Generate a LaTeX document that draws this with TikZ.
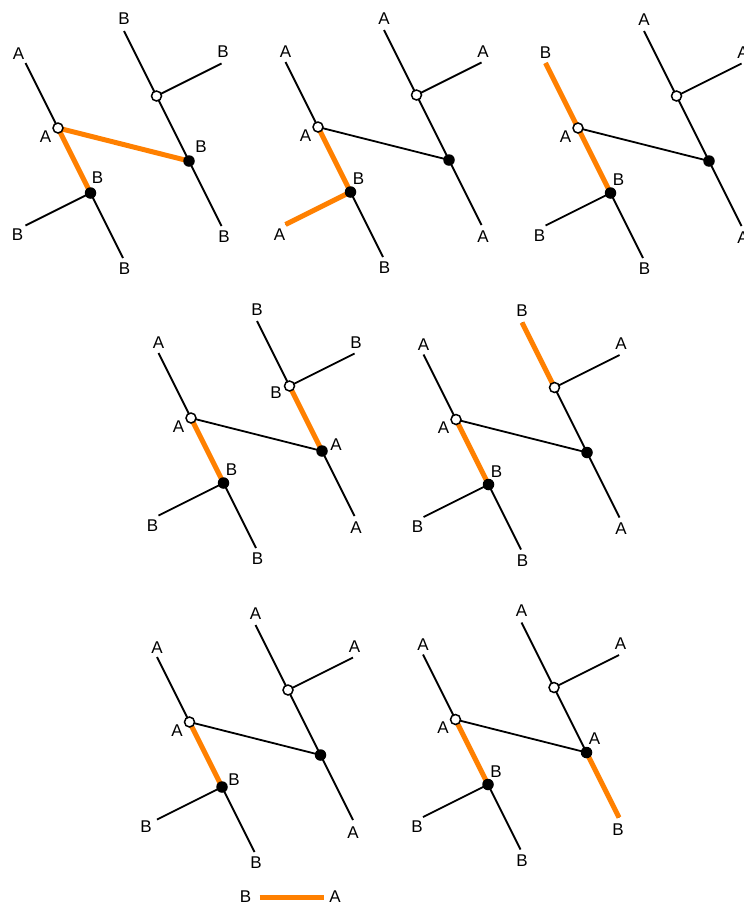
\documentclass[tikz,border=0pt]{standalone}
\usepackage{fontspec}
\setmainfont{Liberation Sans}
\usetikzlibrary{calc}
\definecolor{hlorange}{RGB}{255,128,0}
\tikzset{
  edge/.style={line width=1.8pt,black},
  hledge/.style={line width=5pt,hlorange},
  opennode/.style={circle,draw=black,fill=white,line width=1.5pt,minimum size=10pt,inner sep=0pt},
  fullnode/.style={circle,fill=black,minimum size=11.5pt,inner sep=0pt},
  lab/.style={font=\fontsize{17}{17}\selectfont,inner sep=0pt,anchor=center}
}
\newcommand\mkpanel[3]{%
  \begin{scope}[shift={(#2,#3)}]
    \coordinate (#1lo) at (58,128);
    \coordinate (#1lt) at (25.5,63);
    \coordinate (#1lf) at (90.5,193);
    \coordinate (#1lb) at (123,258);
    \coordinate (#1ls) at (25.5,225.5);
    \coordinate (#1rf) at (189,161);
    \coordinate (#1ro) at (156.5,96);
    \coordinate (#1rt) at (124,31);
    \coordinate (#1rs) at (221.5,63.5);
    \coordinate (#1rb) at (221.5,226);
  \end{scope}
  \draw[edge] (#1lt) -- (#1lo) -- (#1lf) -- (#1lb);
  \draw[edge] (#1lf) -- (#1ls);
  \draw[edge] (#1lo) -- (#1rf);
  \draw[edge] (#1rt) -- (#1ro) -- (#1rf) -- (#1rb);
  \draw[edge] (#1ro) -- (#1rs);
}
\newcommand\mknodes[1]{%
  \node[opennode] (#1LO) at (#1lo) {};
  \node[opennode] (#1RO) at (#1ro) {};
  \node[fullnode] (#1LF) at (#1lf) {};
  \node[fullnode] (#1RF) at (#1rf) {};
}
\newcommand\lab[4]{\node[lab] (#1) at ($(#2)+(#3)$) {#4};}
\newcommand\stdlabs[8]{% prefix, lt, lo, lf, ls, lb, rt, rs
  \lab{#1Llt}{#1lt}{0,-10}{#2}
  \lab{#1Llo}{#1lo}{-12.5,8.5}{#3}
  \lab{#1Llf}{#1lf}{8,-13}{#4}
  \lab{#1Lls}{#1ls}{-6,10}{#5}
  \lab{#1Llb}{#1lb}{1.5,11}{#6}
  \lab{#1Lrt}{#1rt}{0,-11.5}{#7}
  \lab{#1Lrs}{#1rs}{1.5,-11}{#8}
}
\begin{document}
\begin{tikzpicture}[x=1pt,y=-1pt]
\useasboundingbox (0,0) rectangle (744,908);
\fill[white] (0,0) rectangle (744,908);

\mkpanel{a}{0}{0}
\mkpanel{b}{260}{-1}
\mkpanel{c}{520}{0}
\mkpanel{d}{133}{290}
\mkpanel{e}{398}{291.5}
\mkpanel{f}{131.5}{594}
\mkpanel{g}{397.5}{591.5}

% highlighted edges
\draw[hledge] (alf) -- (alo) -- (arf);
\draw[hledge] (blo) -- (blf) -- (bls);
\draw[hledge] (clt) -- (clo) -- (clf);
\draw[hledge] (dlo) -- (dlf);
\draw[hledge] (dro) -- (drf);
\draw[hledge] (elo) -- (elf);
\draw[hledge] (ert) -- (ero);
\draw[hledge] (flo) -- (flf);
\draw[hledge] (glo) -- (glf);
\draw[hledge] (grf) -- (grb);

\mknodes{a}\mknodes{b}\mknodes{c}\mknodes{d}\mknodes{e}\mknodes{f}\mknodes{g}

% panel a
\lab{aLlt}{alt}{-7,-9}{A}
\lab{aLlo}{alo}{-12.5,8.5}{A}
\lab{aLlf}{alf}{7,-15}{B}
\lab{aLls}{als}{-8,9}{B}
\lab{aLlb}{alb}{1.5,11}{B}
\lab{aLrt}{art}{0,-12}{B}
\lab{aLrs}{ars}{1.5,-11.5}{B}
\lab{aLrf}{arf}{12,-14}{B}
\lab{aLrb}{arb}{2.5,11}{B}
% panel b
\stdlabs{b}{A}{A}{B}{A}{B}{A}{A}
\lab{bLrb}{brb}{1.5,11.5}{A}
% panel c
\stdlabs{c}{B}{A}{B}{B}{B}{A}{A}
\lab{cLrb}{crb}{1.5,11.5}{A}
% panel d
\stdlabs{d}{A}{A}{B}{B}{B}{B}{B}
\lab{dLro}{dro}{-13.5,6.5}{B}
\lab{dLrf}{drf}{14,-6}{A}
\lab{dLrb}{drb}{1.5,11.5}{A}
% panel e
\stdlabs{e}{A}{A}{B}{B}{B}{B}{A}
\lab{eLrb}{erb}{1.5,11.5}{A}
% panel f
\lab{fLlt}{flt}{0,-9}{A}
\lab{fLlo}{flo}{-12.5,8.5}{A}
\lab{fLlf}{flf}{12,-7}{B}
\lab{fLls}{fls}{-11,7}{B}
\lab{fLlb}{flb}{1.5,11}{B}
\lab{fLrt}{frt}{0,-11.5}{A}
\lab{fLrs}{frs}{1.5,-11}{A}
\lab{fLrb}{frb}{0,13}{A}
% panel g
\stdlabs{g}{A}{A}{B}{B}{B}{A}{A}
\lab{gLrf}{grf}{8,-14}{A}
\lab{gLrb}{grb}{-1,12.5}{B}

% legend
\node[lab] (legB) at (245.5,897) {B};
\node[lab] (legA) at (335,897) {A};
\coordinate (legL) at (259.5,897);
\coordinate (legR) at (323.5,897);
\draw[line width=5pt,hlorange] (legL) -- (legR);
\end{tikzpicture}
\end{document}
